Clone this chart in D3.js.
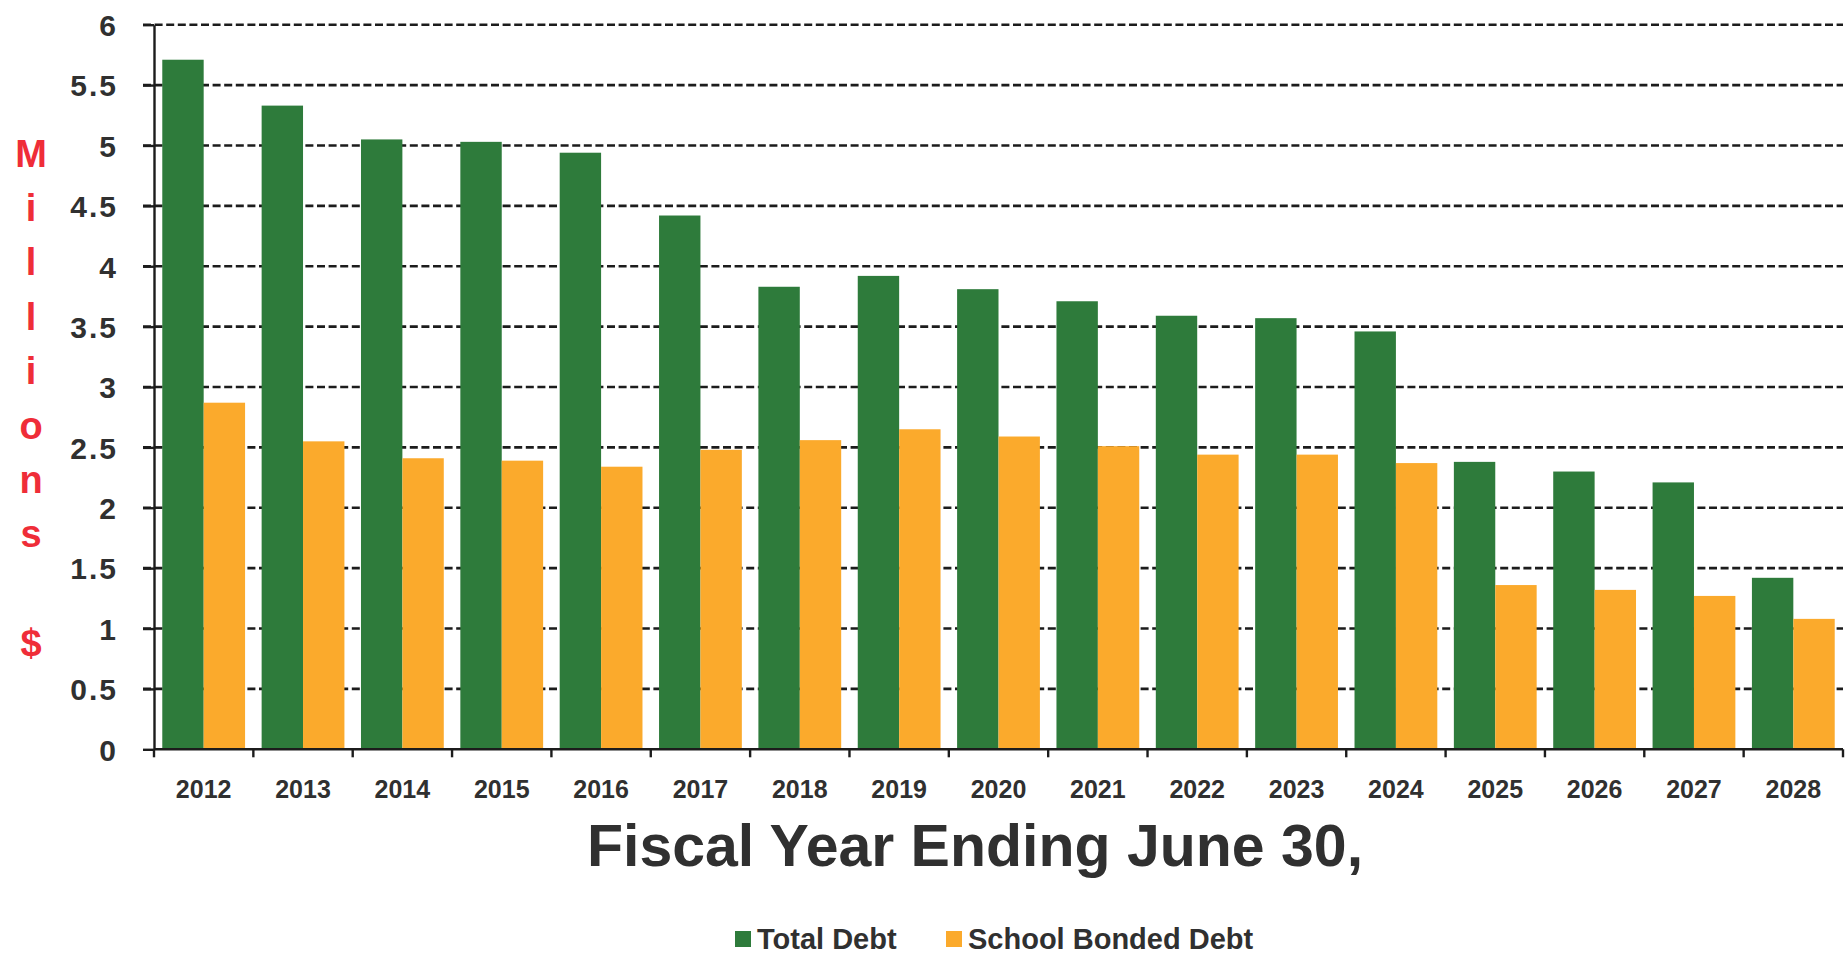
<!DOCTYPE html>
<html>
<head>
<meta charset="utf-8">
<script src="https://cdn.jsdelivr.net/npm/d3@7"></script>
<style>
  html, body { margin: 0; padding: 0; background: #ffffff; }
  svg { display: block; font-family: "Liberation Sans", Arial, sans-serif; }
</style>
</head>
<body>
<svg id="chart" width="1848" height="958"></svg>
<script>
// Fiscal years (ending June 30)
const years = ["2012","2013","2014","2015","2016","2017","2018","2019","2020","2021","2022","2023","2024","2025","2026","2027","2028"];
// Debt in millions of dollars
const totalDebt = [5.71, 5.33, 5.05, 5.03, 4.94, 4.42, 3.83, 3.92, 3.81, 3.71, 3.59, 3.57, 3.46, 2.38, 2.30, 2.21, 1.42];
const schoolBondedDebt = [2.87, 2.55, 2.41, 2.39, 2.34, 2.48, 2.56, 2.65, 2.59, 2.51, 2.44, 2.44, 2.37, 1.36, 1.32, 1.27, 1.08];
const seriesNames = ["Total Debt", "School Bonded Debt"];
const yTicks = [0, 0.5, 1, 1.5, 2, 2.5, 3, 3.5, 4, 4.5, 5, 5.5, 6];
const yLabelChars = ["M","i","l","l","i","o","n","s"," ","$"];
const xTitle = "Fiscal Year Ending June 30,";

const colors = { "Total Debt": "#2e7b3b", "School Bonded Debt": "#fbaa2c" };
const textColor = "#303030";

const svg = d3.select("#chart");
const plot = { left: 154, right: 1843, top: 24.7, bottom: 749.3 };

const y = d3.scaleLinear().domain([0, 6]).range([plot.bottom, plot.top]);
const x0 = d3.scaleBand().domain(years).range([plot.left, plot.right]).padding(0);
const groupW = x0.bandwidth() / 1.2;
const groupOff = (x0.bandwidth() - groupW) / 2;
const x1 = d3.scaleBand().domain(seriesNames).range([groupOff, groupOff + groupW]).padding(0);

// Dashed horizontal gridlines (behind bars)
svg.append("g")
  .selectAll("line")
  .data(yTicks.filter(d => d > 0))
  .join("line")
  .attr("x1", plot.left - 11)
  .attr("x2", plot.right)
  .attr("y1", d => y(d))
  .attr("y2", d => y(d))
  .attr("stroke", "#1c1c1c")
  .attr("stroke-width", 2.6)
  .attr("stroke-dasharray", "8,3.6");

// Bars
const rows = years.map((yr, i) => ({ year: yr, values: [
  { key: "Total Debt", value: totalDebt[i] },
  { key: "School Bonded Debt", value: schoolBondedDebt[i] }
]}));

svg.append("g")
  .selectAll("g")
  .data(rows)
  .join("g")
  .attr("transform", d => `translate(${x0(d.year)},0)`)
  .selectAll("rect")
  .data(d => d.values)
  .join("rect")
  .attr("x", d => x1(d.key))
  .attr("width", x1.bandwidth())
  .attr("y", d => y(d.value))
  .attr("height", d => y(0) - y(d.value))
  .attr("fill", d => colors[d.key]);

// Y axis
const yAxis = d3.axisLeft(y).tickValues(yTicks).tickSize(11).tickSizeOuter(0)
  .tickFormat(d => d3.format("")(d));
const gy = svg.append("g").attr("transform", `translate(${plot.left},0)`).call(yAxis);
gy.select(".domain").attr("stroke", "#1c1c1c").attr("stroke-width", 2.4);
gy.selectAll(".tick line").attr("stroke", "#1c1c1c").attr("stroke-width", 2.4);
gy.selectAll(".tick text")
  .attr("x", -36)
  .attr("dy", "0.36em")
  .attr("fill", textColor)
  .style("font-size", "30px")
  .style("font-weight", "bold")
  .style("letter-spacing", "2px");

// X axis with ticks on category boundaries
const xAxisG = svg.append("g").attr("transform", `translate(0,${plot.bottom})`);
xAxisG.append("line")
  .attr("x1", plot.left).attr("x2", plot.right)
  .attr("stroke", "#1c1c1c").attr("stroke-width", 2.4);
const boundaries = years.map(d => x0(d)).concat([x0(years[years.length - 1]) + x0.bandwidth()]);
xAxisG.selectAll("line.bound")
  .data(boundaries)
  .join("line")
  .attr("class", "bound")
  .attr("x1", d => d).attr("x2", d => d)
  .attr("y1", 0).attr("y2", 8)
  .attr("stroke", "#1c1c1c").attr("stroke-width", 2.4);
xAxisG.selectAll("text")
  .data(years)
  .join("text")
  .attr("x", d => x0(d) + x0.bandwidth() / 2)
  .attr("y", 49)
  .attr("text-anchor", "middle")
  .attr("fill", textColor)
  .style("font-size", "25px")
  .style("font-weight", "bold")
  .text(d => d);

// X axis title
svg.append("text")
  .attr("x", 975)
  .attr("y", 866)
  .attr("text-anchor", "middle")
  .attr("fill", textColor)
  .style("font-size", "59px")
  .style("font-weight", "bold")
  .text(xTitle);

// Y axis title, letters stacked vertically
svg.append("g")
  .selectAll("text")
  .data(yLabelChars)
  .join("text")
  .attr("x", 31)
  .attr("y", (d, i) => 153 + i * 54.4)
  .attr("dy", "0.36em")
  .attr("text-anchor", "middle")
  .attr("fill", "#ef2d38")
  .style("font-size", "38px")
  .style("font-weight", "bold")
  .text(d => d);

// Legend
const legendItems = [
  { key: "Total Debt", x: 735 },
  { key: "School Bonded Debt", x: 946 }
];
const lg = svg.append("g").selectAll("g").data(legendItems).join("g")
  .attr("transform", d => `translate(${d.x},939)`);
lg.append("rect")
  .attr("x", 0).attr("y", -8)
  .attr("width", 16).attr("height", 16)
  .attr("fill", d => colors[d.key]);
lg.append("text")
  .attr("x", 22)
  .attr("dy", "0.36em")
  .attr("fill", textColor)
  .style("font-size", "29px")
  .style("font-weight", "bold")
  .text(d => d.key);
</script>
</body>
</html>
